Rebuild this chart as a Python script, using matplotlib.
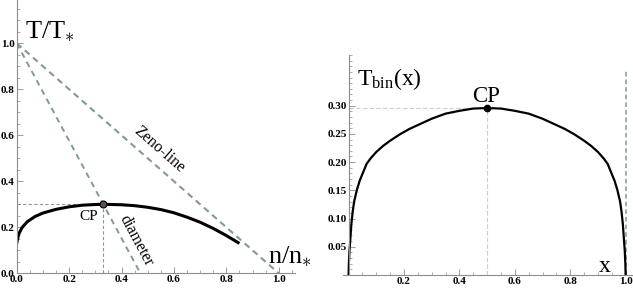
import numpy as np
import matplotlib
matplotlib.use('Agg')
import matplotlib.pyplot as plt
from matplotlib.ticker import MultipleLocator, FixedLocator

plt.rcParams['font.family'] = ['Liberation Serif', 'DejaVu Serif']
plt.rcParams['mathtext.fontset'] = 'custom'
plt.rcParams['mathtext.rm'] = 'Liberation Serif'
plt.rcParams['mathtext.it'] = 'Liberation Serif'

# left panel: coexistence curve in (n/n*, T/T*)
coex_n = [0.0, 0.005, 0.01, 0.02, 0.04, 0.07, 0.10, 0.15, 0.20, 0.25, 0.30, 0.33,
          0.40, 0.45, 0.50, 0.55, 0.60, 0.65, 0.70, 0.75, 0.80, 0.85]
coex_T = [0.13, 0.158, 0.176, 0.198, 0.224, 0.247, 0.262, 0.278, 0.289, 0.296, 0.299, 0.300,
          0.298, 0.294, 0.287, 0.277, 0.263, 0.244, 0.222, 0.195, 0.164, 0.13]
zeno_n = [0.0, 1.0]
zeno_T = [1.0, 0.0]
diam_n = [0.0, 0.472]
diam_T = [1.0, 0.0]
cp_left = (0.329, 0.30)

# right panel: T_bin(x), symmetric about x = 0.5
bin_x = [0.0, 0.001, 0.003, 0.006, 0.01, 0.015, 0.02, 0.03, 0.04, 0.05, 0.065, 0.08, 0.10,
         0.125, 0.15, 0.184, 0.22, 0.26, 0.30, 0.35, 0.40, 0.45, 0.50,
         0.55, 0.60, 0.65, 0.70, 0.74, 0.78, 0.816, 0.85, 0.875, 0.90, 0.92, 0.935, 0.95,
         0.96, 0.97, 0.98, 0.985, 0.99, 0.994, 0.997, 0.999, 1.0]
bin_T = [0.0, 0.02, 0.042, 0.062, 0.09, 0.113, 0.13, 0.151, 0.167, 0.179, 0.197, 0.207, 0.218,
         0.229, 0.238, 0.249, 0.259, 0.268, 0.277, 0.286, 0.291, 0.295, 0.296,
         0.295, 0.291, 0.286, 0.277, 0.268, 0.259, 0.249, 0.238, 0.229, 0.218, 0.207, 0.197, 0.179,
         0.167, 0.151, 0.13, 0.113, 0.09, 0.062, 0.042, 0.02, 0.0]
cp_right = (0.5, 0.296)

gray_dash = '#7f9a98'
axis_col = '#8c8c8c'

fig = plt.figure(figsize=(6.33, 2.88), dpi=100)


def style_axes(ax):
    for s in ['top', 'right']:
        ax.spines[s].set_visible(False)
    for s in ['left', 'bottom']:
        ax.spines[s].set_color(axis_col)
        ax.spines[s].set_linewidth(0.8)
    ax.tick_params(which='major', direction='in', length=4, width=0.6, color=axis_col,
                   labelsize=8, pad=1.5)
    ax.tick_params(which='minor', direction='in', length=2, width=0.5, color=axis_col)
    for lab in ax.get_xticklabels() + ax.get_yticklabels():
        lab.set_fontweight('bold')
        lab.set_fontfamily('Liberation Serif')
    ax.patch.set_alpha(0)


# ---- left panel
ax1 = fig.add_axes([16.7 / 633, (288 - 273.3) / 288, (295 - 16.7) / 633, 273.3 / 288])
ax1.set_xlim(0, 1.062)
ax1.set_ylim(0, 1.188)
ax1.set_xticks([0, 0.2, 0.4, 0.6, 0.8, 1.0], ['0.0', '0.2', '0.4', '0.6', '0.8', '1.0'])
ax1.set_yticks([0, 0.2, 0.4, 0.6, 0.8, 1.0], ['0.0', '0.2', '0.4', '0.6', '0.8', '1.0'])
ax1.xaxis.set_minor_locator(MultipleLocator(0.05))
ax1.yaxis.set_minor_locator(MultipleLocator(0.05))
style_axes(ax1)

ax1.plot(zeno_n, zeno_T, color=gray_dash, lw=1.5, dashes=(3, 2.2))
ax1.plot(diam_n, diam_T, color=gray_dash, lw=1.4, dashes=(3, 2.4))
ax1.plot([0, cp_left[0]], [cp_left[1], cp_left[1]], color='#8a9a98', lw=0.8, dashes=(3, 2))
ax1.plot([cp_left[0], cp_left[0]], [0, cp_left[1]], color='#8a9a98', lw=0.8, dashes=(3, 2))
ax1.plot(coex_n, coex_T, color='black', lw=2.2, solid_capstyle='butt')
ax1.plot(*cp_left, 'o', ms=5, mfc='#555555', mec='black', mew=0.8)

ax1.text(0.03, 1.02, r'T/T$_{\ast}$', fontsize=19, va='baseline', ha='left')
ax1.text(0.959, 0.045, r'n/n$_{\ast}$', fontsize=19, va='baseline', ha='left')
ax1.text(0.276, 0.232, 'CP', fontsize=11, va='baseline', ha='center')
ax1.text(0.543, 0.536, 'Zeno-line', fontsize=11.5, rotation=-41.3, va='center', ha='center',
         rotation_mode='anchor')
ax1.text(0.455, 0.14, 'diameter', fontsize=11.5, rotation=-61.8, va='center', ha='center',
         rotation_mode='anchor')

# ---- right panel
x0 = 348.6 - 0.02 * 277
ax2 = fig.add_axes([x0 / 633, (288 - 274.9) / 288, (632 - x0) / 633, (274.9 - 55) / 288])
ax2.set_xlim(-0.02, 1.023)
ax2.set_ylim(0, 0.39)
ax2.spines['left'].set_position(('data', 0))
ax2.set_xticks([0.2, 0.4, 0.6, 0.8, 1.0], ['0.2', '0.4', '0.6', '0.8', '1.0'])
ax2.set_yticks([0.05, 0.10, 0.15, 0.20, 0.25, 0.30],
               ['0.05', '0.10', '0.15', '0.20', '0.25', '0.30'])
ax2.xaxis.set_minor_locator(FixedLocator([0.05, 0.1, 0.15, 0.25, 0.3, 0.35, 0.45, 0.5, 0.55,
                                          0.65, 0.7, 0.75, 0.85, 0.9, 0.95]))
ax2.yaxis.set_minor_locator(MultipleLocator(0.01))
style_axes(ax2)

ax2.plot([0, cp_right[0]], [cp_right[1], cp_right[1]], color='#c5d2d0', lw=0.8, dashes=(4, 2))
ax2.plot([cp_right[0], cp_right[0]], [0, cp_right[1]], color='#c5d2d0', lw=0.8, dashes=(4, 2))
ax2.plot([1.0, 1.0], [0, 0.365], color=gray_dash, lw=1.1, dashes=(3, 2))
ax2.plot(bin_x, bin_T, color='black', lw=1.6)
ax2.plot(*cp_right, 'o', ms=4.5, color='black')

ax2.text(0.03, 0.337, r'T$_{\mathrm{bin}}$(x)', fontsize=17, va='baseline', ha='left')
ax2.text(0.495, 0.307, 'CP', fontsize=16.5, va='baseline', ha='center')
ax2.text(0.926, 0.006, 'x', fontsize=17, va='baseline', ha='center')

fig.savefig('out.png', dpi=100)
